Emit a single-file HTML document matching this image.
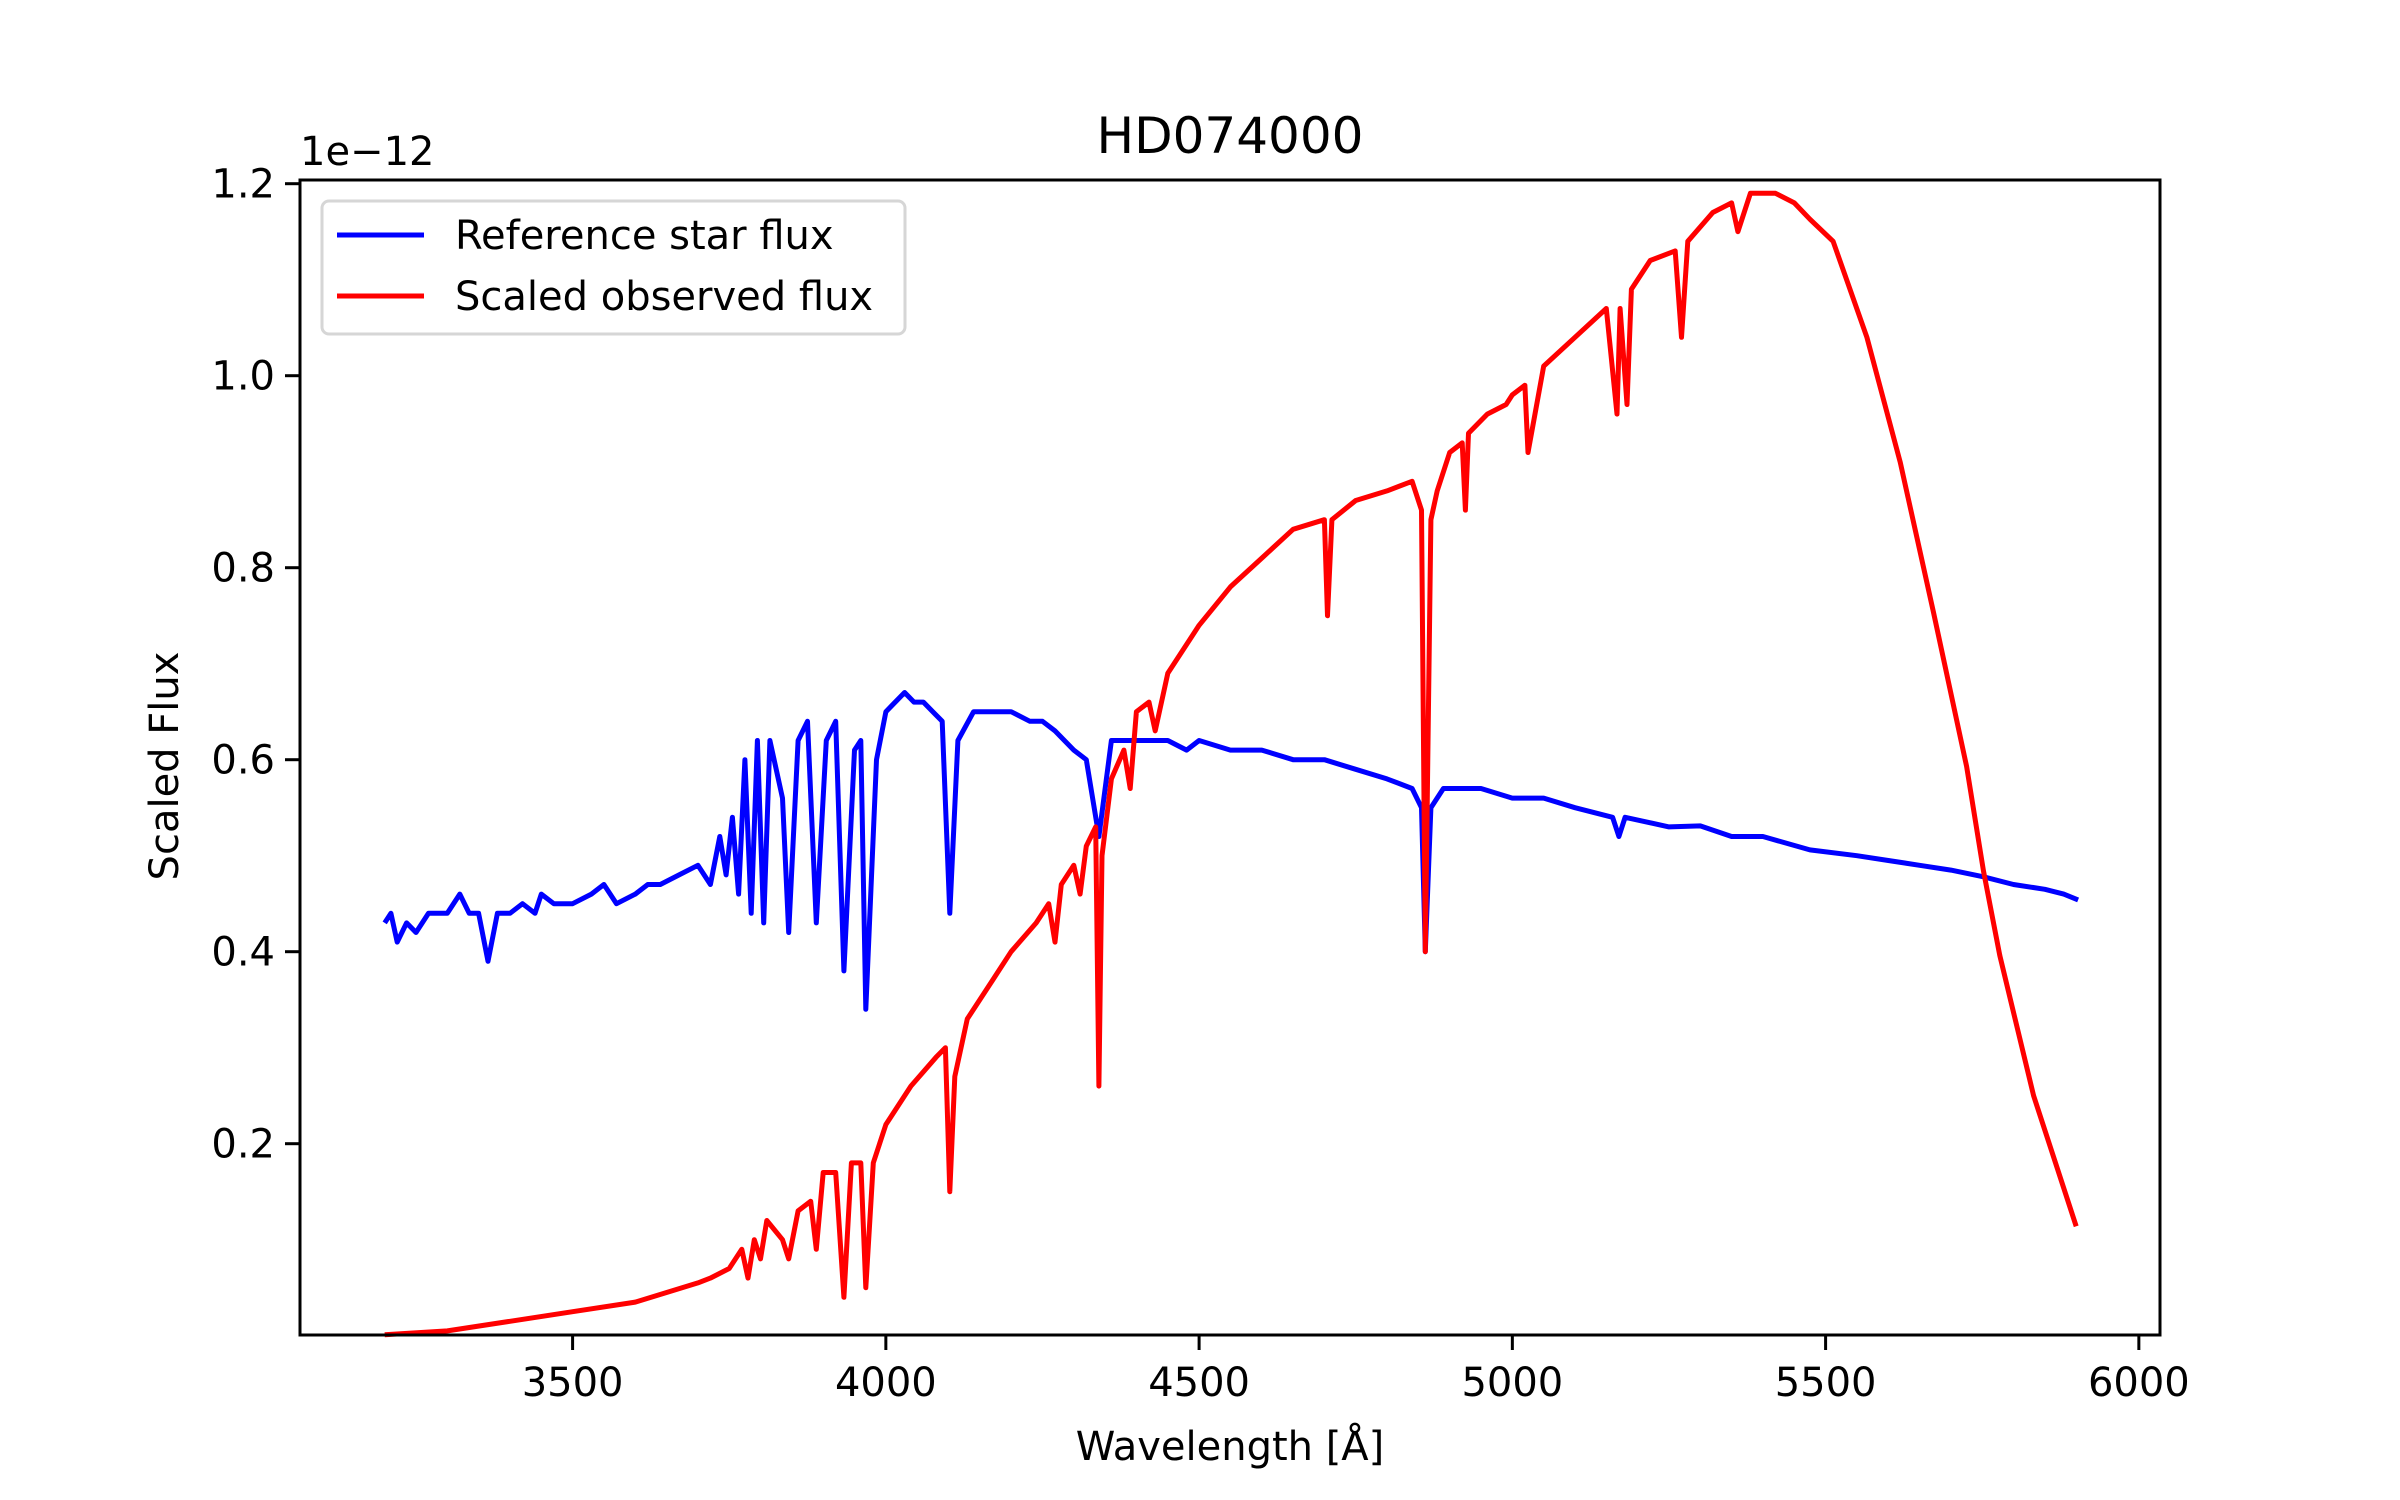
<!DOCTYPE html>
<html><head><meta charset="utf-8"><style>
html,body{margin:0;padding:0;background:#fff;}
svg{display:block;font-family:"DejaVu Sans","Liberation Sans",sans-serif;}
</style></head><body>
<svg id="chart" width="2400" height="1500" viewBox="0 0 2400 1500">
<rect x="0" y="0" width="2400" height="1500" fill="#fff"/>
<g id="plot"></g>
<g id="axes"></g>
<text x="1230" y="153" font-size="50" text-anchor="middle">HD074000</text>
<text x="300" y="165" font-size="40">1e−12</text>
<text x="1230" y="1460" font-size="40" text-anchor="middle">Wavelength [Å]</text>
<text transform="translate(178,766) rotate(-90)" font-size="40" text-anchor="middle">Scaled Flux</text>
<g>
<rect x="322" y="201" width="583" height="133" rx="7" fill="#fff" fill-opacity="0.8" stroke="#d6d6d6" stroke-width="3"/>
<line x1="337" y1="235" x2="424" y2="235" stroke="#0000ff" stroke-width="5"/>
<text x="455" y="249" font-size="40">Reference star flux</text>
<line x1="337" y1="296" x2="424" y2="296" stroke="#ff0000" stroke-width="5"/>
<text x="455" y="310" font-size="40">Scaled observed flux</text>
</g>
</svg>
<script>
const xTicks = [3500, 4000, 4500, 5000, 5500, 6000];
const yTicks = [0.2, 0.4, 0.6, 0.8, 1.0, 1.2];
const yTickLabels = ["0.2", "0.4", "0.6", "0.8", "1.0", "1.2"];
const wavesBlue = [3200,3210,3220,3235,3250,3270,3300,3320,3335,3350,3365,3380,3400,3420,3440,3450,3470,3500,3530,3550,3570,3600,3620,3640,3670,3700,3720,3735,3745,3755,3765,3775,3785,3795,3805,3815,3835,3845,3860,3875,3889,3905,3920,3933,3950,3960,3968,3985,4000,4030,4045,4060,4075,4090,4102,4115,4140,4170,4200,4230,4250,4270,4300,4320,4340,4360,4400,4430,4450,4480,4500,4550,4600,4650,4700,4750,4800,4840,4855,4861,4870,4890,4950,5000,5050,5100,5160,5170,5180,5250,5300,5350,5400,5475,5550,5600,5650,5700,5752,5800,5850,5880,5903];
const fluxBlue = [0.43,0.44,0.41,0.43,0.42,0.44,0.44,0.46,0.44,0.44,0.39,0.44,0.44,0.45,0.44,0.46,0.45,0.45,0.46,0.47,0.45,0.46,0.47,0.47,0.48,0.49,0.47,0.52,0.48,0.54,0.46,0.60,0.44,0.62,0.43,0.62,0.56,0.42,0.62,0.64,0.43,0.62,0.64,0.38,0.61,0.62,0.34,0.60,0.65,0.67,0.66,0.66,0.65,0.64,0.44,0.62,0.65,0.65,0.65,0.64,0.64,0.63,0.61,0.60,0.52,0.62,0.62,0.62,0.62,0.61,0.62,0.61,0.61,0.60,0.60,0.59,0.58,0.57,0.55,0.40,0.55,0.57,0.57,0.56,0.56,0.55,0.54,0.52,0.54,0.53,0.531,0.52,0.52,0.506,0.50,0.495,0.49,0.485,0.478,0.47,0.465,0.46,0.454];
const wavesRed = [3200,3300,3400,3500,3600,3650,3700,3720,3750,3770,3780,3790,3800,3810,3835,3845,3860,3880,3889,3900,3920,3933,3945,3960,3968,3980,3990,4000,4040,4080,4095,4102,4110,4130,4170,4200,4240,4260,4270,4280,4300,4310,4320,4335,4340,4345,4360,4380,4390,4400,4420,4430,4450,4500,4550,4600,4650,4700,4705,4712,4750,4800,4840,4855,4861,4870,4880,4900,4920,4925,4930,4960,4990,5000,5020,5025,5050,5100,5150,5167,5172,5183,5190,5220,5260,5270,5280,5320,5350,5360,5380,5400,5420,5450,5475,5512,5566,5619,5672,5725,5752,5778,5832,5900];
const fluxRed = [0.001,0.005,0.015,0.025,0.035,0.045,0.055,0.06,0.07,0.09,0.06,0.10,0.08,0.12,0.10,0.08,0.13,0.14,0.09,0.17,0.17,0.04,0.18,0.18,0.05,0.18,0.20,0.22,0.26,0.29,0.30,0.15,0.27,0.33,0.37,0.40,0.43,0.45,0.41,0.47,0.49,0.46,0.51,0.53,0.26,0.50,0.58,0.61,0.57,0.65,0.66,0.63,0.69,0.74,0.78,0.81,0.84,0.85,0.75,0.85,0.87,0.88,0.89,0.86,0.40,0.85,0.88,0.92,0.93,0.86,0.94,0.96,0.97,0.98,0.99,0.92,1.01,1.04,1.07,0.96,1.07,0.97,1.09,1.12,1.13,1.04,1.14,1.17,1.18,1.15,1.19,1.19,1.19,1.18,1.163,1.14,1.04,0.91,0.754,0.593,0.484,0.396,0.250,0.114];

const NS = "http://www.w3.org/2000/svg";
const AX = {left: 300, right: 2160, top: 180, bottom: 1335};
function xScale(w) { return 572.6 + (w - 3500) * 0.6265; }
function yScale(v) { return 183.7 + (1.2 - v) * 960; }

const plot = document.getElementById('plot');
const axes = document.getElementById('axes');

function drawSeries(ws, fs, color, name) {
  const p = document.createElementNS(NS, 'path');
  let d = '';
  for (let i = 0; i < ws.length; i++) {
    d += (i ? 'L' : 'M') + xScale(ws[i]).toFixed(1) + ' ' + yScale(fs[i]).toFixed(1);
  }
  p.setAttribute('d', d);
  p.setAttribute('fill', 'none');
  p.setAttribute('stroke', color);
  p.setAttribute('stroke-width', '5');
  p.setAttribute('stroke-linejoin', 'round');
  
  
  plot.appendChild(p);
}
drawSeries(wavesBlue, fluxBlue, '#0000ff', 'reference-star-flux-line');
drawSeries(wavesRed, fluxRed, '#ff0000', 'scaled-observed-flux-line');

const frame = document.createElementNS(NS, 'rect');
frame.setAttribute('x', AX.left); frame.setAttribute('y', AX.top);
frame.setAttribute('width', AX.right - AX.left); frame.setAttribute('height', AX.bottom - AX.top);
frame.setAttribute('fill', 'none'); frame.setAttribute('stroke', '#000'); frame.setAttribute('stroke-width', '3');


axes.appendChild(frame);

xTicks.forEach(function (t) {
  const x = xScale(t);
  const l = document.createElementNS(NS, 'line');
  l.setAttribute('x1', x); l.setAttribute('x2', x);
  l.setAttribute('y1', AX.bottom); l.setAttribute('y2', AX.bottom + 15);
  l.setAttribute('stroke', '#000'); l.setAttribute('stroke-width', '3');
  
  
  axes.appendChild(l);
  const tx = document.createElementNS(NS, 'text');
  tx.setAttribute('x', x); tx.setAttribute('y', 1396);
  tx.setAttribute('font-size', '40'); tx.setAttribute('text-anchor', 'middle');
  tx.textContent = String(t);
  
  
  axes.appendChild(tx);
});
yTicks.forEach(function (t, i) {
  const y = yScale(t);
  const l = document.createElementNS(NS, 'line');
  l.setAttribute('x1', AX.left - 15); l.setAttribute('x2', AX.left);
  l.setAttribute('y1', y); l.setAttribute('y2', y);
  l.setAttribute('stroke', '#000'); l.setAttribute('stroke-width', '3');
  
  
  axes.appendChild(l);
  const tx = document.createElementNS(NS, 'text');
  tx.setAttribute('x', AX.left - 25); tx.setAttribute('y', y + 14);
  tx.setAttribute('font-size', '40'); tx.setAttribute('text-anchor', 'end');
  tx.textContent = yTickLabels[i];
  
  
  axes.appendChild(tx);
});
</script>
</body></html>
